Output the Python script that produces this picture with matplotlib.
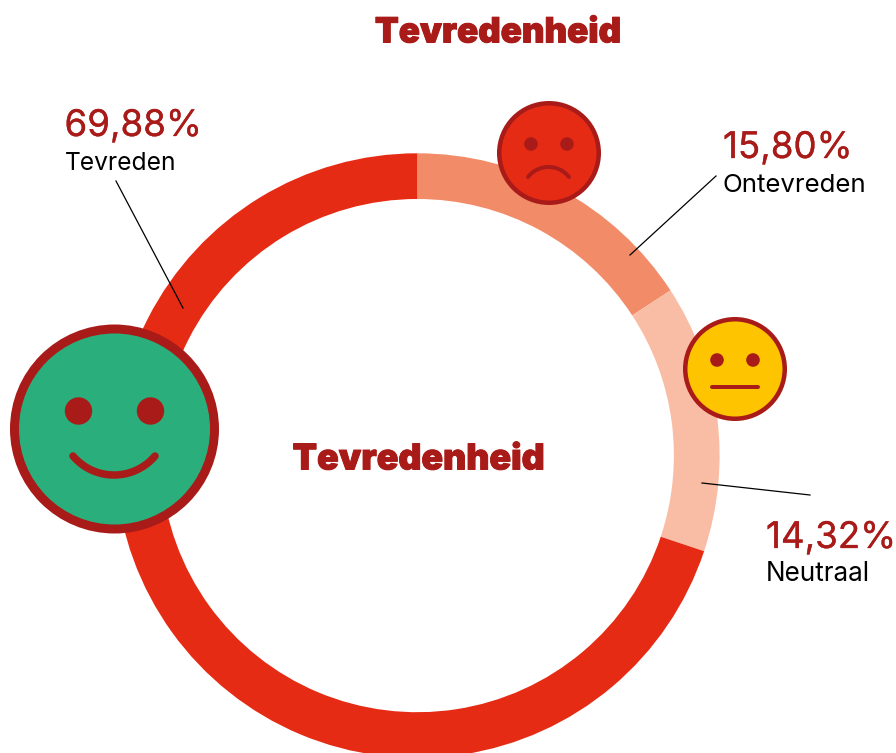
import matplotlib
matplotlib.use("Agg")
import matplotlib.pyplot as plt
import matplotlib.patheffects as pe
from matplotlib.patches import Circle
import numpy as np

W, H = 896, 753

# Chart data, clockwise from the top
labels = ["Ontevreden", "Neutraal", "Tevreden"]
values = [15.80, 14.32, 69.88]
colors = ["#F28B68", "#F9BDA5", "#E62B15"]
title = "Tevredenheid"

DARK = "#A91B18"

fig = plt.figure(figsize=(W / 100, H / 100), dpi=100)
ax = fig.add_axes([0, 0, 1, 1])

# y axis is flipped, so counterclock here reads clockwise on screen
ax.pie(values, colors=colors, startangle=-90, counterclock=True, center=(417.3, 455.6),
       radius=302.3, wedgeprops={"width": 45.7, "linewidth": 0}, frame=True)
ax.set_xlim(0, W)
ax.set_ylim(H, 0)
ax.set_aspect("equal")
ax.axis("off")


def heavy_text(x, y, s, size):
    ax.text(x, y, s, ha="center", va="baseline", fontsize=size, family="Inter", weight="black",
            color=DARK, path_effects=[pe.withStroke(linewidth=0.7, foreground=DARK)])


heavy_text(498, 42.5, title, 25.1)
heavy_text(418.7, 469.5, title, 25.7)

# label blocks: number, text x, number baseline, name baseline, name size, leader line
blocks = [
    (2, 64.5, 136, 170, 17.7, [(116, 181), (183, 308)]),
    (0, 723, 158, 192, 18.6, [(716, 176), (630, 255)]),
    (1, 766, 548, 581, 18.8, [(810, 495), (702, 483)]),
]
for i, x, y1, y2, size, line in blocks:
    ax.text(x, y1, f"{values[i]:.2f}%".replace(".", ","), fontsize=26.4, family="Inter",
            color=DARK, va="baseline",
            path_effects=[pe.withStroke(linewidth=0.2, foreground=DARK)])
    ax.text(x, y2, labels[i], fontsize=size, family="Inter", color="black", va="baseline")
    ax.plot([line[0][0], line[1][0]], [line[0][1], line[1][1]], color="black", lw=0.9, zorder=3)


def face(cx, cy, r, border, fill, eye_dx, eye_dy, eye_r):
    ax.add_patch(Circle((cx, cy), r - border / 2, fc=fill, ec=DARK, lw=border * 0.72, zorder=4))
    for s in (-1, 1):
        ax.add_patch(Circle((cx + s * eye_dx, cy + eye_dy), eye_r, fc=DARK, ec="none", zorder=5))


def mouth(x0, x1, y_end, y_mid, lw):
    # circular arc through both ends and the middle point
    half = (x1 - x0) / 2
    sag = y_mid - y_end
    rad = (half ** 2 + sag ** 2) / (2 * abs(sag))
    a = np.arcsin(half / rad)
    t = np.linspace(-a, a, 40)
    cx = (x0 + x1) / 2
    cy = y_mid - np.sign(sag) * rad
    ax.plot(cx + rad * np.sin(t), cy + np.sign(sag) * rad * np.cos(t), color=DARK,
            lw=lw * 0.72, solid_capstyle="round", zorder=5)


# happy
face(114.5, 429, 104.5, 9, "#2AAE7C", 36, -18, 13.7)
mouth(73, 155, 456, 475, 7.5)
# sad
face(549, 153, 52, 4.5, "#E62B15", 18, -9, 6.8)
mouth(528, 569, 177, 167, 4)
# neutral
face(735, 369, 52, 4.5, "#FFC400", 18, -9, 6.8)
ax.plot([712, 758], [387, 387], color=DARK, lw=4 * 0.72, solid_capstyle="round", zorder=5)

fig.savefig("out.png", dpi=100)
